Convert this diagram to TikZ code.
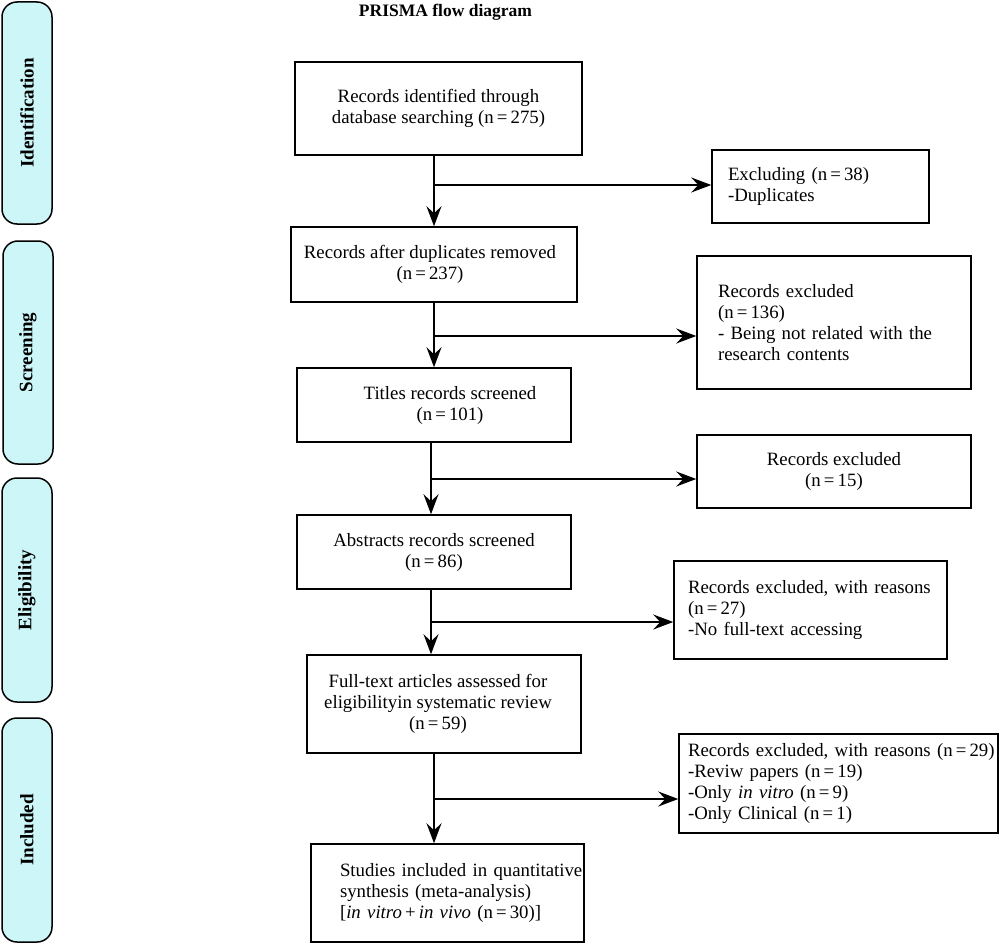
\documentclass[tikz,border=0pt]{standalone}
\usepackage{fontspec}
\setmainfont{Liberation Serif}
\usetikzlibrary{arrows.meta,calc}
\definecolor{phase}{HTML}{CDF6F8}
\newcommand{\nq}{\,=\,}
\newcommand{\lineat}[2]{\mbox{\hspace*{#1}#2}}
\tikzset{
  box/.style={draw=black, line width=1.5pt, inner sep=0pt, align=center,
    font=\fontsize{18.8}{21}\selectfont},
  lbox/.style={box, align=left},
  phasebox/.style={draw=black, line width=1.5pt, fill=phase, rounded corners=15pt,
    minimum width=50pt, inner sep=0pt},
  phaselabel/.style={rotate=90, font=\bfseries\fontsize{19}{22}\selectfont},
  arr/.style={line width=1.5pt, -{Stealth[length=20pt, width=15pt, inset=7pt]}},
}
\begin{document}
\begin{tikzpicture}[x=1pt, y=-1pt]
\useasboundingbox (0,0) rectangle (1000,944);
% phase bars
\node[phasebox, minimum height=222pt] (p1) at (27,113) {};
\node[phaselabel] (p1t) at (p1.center) {Identification};
\node[phasebox, minimum height=223pt] (p2) at (28,352.5) {};
\node[phaselabel] (p2t) at (p2.center) {Screening};
\node[phasebox, minimum height=224pt] (p3) at (27,590) {};
\node[phaselabel] (p3t) at (p3.center) {Eligibility};
\node[phasebox, minimum height=224pt] (p4) at (27,830) {};
\node[phaselabel] (p4t) at (p4.center) {Included};
% title
\node[font=\bfseries\fontsize{17.5}{20}\selectfont] (title) at (445.5,12) {PRISMA flow diagram};
% main boxes
\node[box, minimum width=287pt, minimum height=93pt] (b1) at (438.5,108.5)
  {Records identified through\\database searching (n\nq 275)};
\node[box, minimum width=286pt, minimum height=75pt] (b2) at (434,264.5)
  {\hspace*{-8pt}Records after duplicates removed\\\hspace*{-8pt}(n\nq 237)};
\node[box, minimum width=274pt, minimum height=74pt] (b3) at (434,405)
  {\hspace*{32pt}Titles records screened\\\hspace*{32pt}(n\nq 101)};
\node[box, minimum width=274pt, minimum height=74pt] (b4) at (434,552)
  {Abstracts records screened\\(n\nq 86)};
\node[box, minimum width=274pt, minimum height=98pt] (b5) at (444,704)
  {\hspace*{-12pt}Full-text articles assessed for\\\hspace*{-12pt}eligibilityin systematic review\\\hspace*{-12pt}(n\nq 59)};
\node[lbox, minimum width=273pt, minimum height=98pt, text width=273pt] (b6) at (447.5,893)
  {\lineat{29pt}{Studies included in quantitative}\\\lineat{29pt}{synthesis (meta-analysis)}\\\lineat{29pt}{[\textit{in vitro}\,+\,\textit{in vivo} (n\nq 30)]}};
% exclusion boxes
\node[lbox, minimum width=217pt, minimum height=73pt, text width=217pt] (ex1) at (820.5,186.5)
  {\lineat{16pt}{Excluding (n\nq 38)}\\\lineat{16pt}{-Duplicates}};
\node[lbox, minimum width=274pt, minimum height=133pt, text width=274pt] (ex2) at (834,322.5)
  {\lineat{21pt}{Records excluded}\\\lineat{21pt}{(n\nq 136)}\\\lineat{21pt}{- Being not related with the}\\\lineat{21pt}{research contents}};
\node[box, minimum width=274pt, minimum height=73pt] (ex3) at (834,471.5)
  {Records excluded\\(n\nq 15)};
\node[lbox, minimum width=273pt, minimum height=98pt, text width=273pt] (ex4) at (810.5,610)
  {\lineat{14pt}{Records excluded, with reasons}\\\lineat{14pt}{(n\nq 27)}\\\lineat{14pt}{-No full-text accessing}};
\node[lbox, minimum width=319pt, minimum height=99pt, text width=319pt] (ex5) at (838.5,783.5)
  {\lineat{9pt}{Records excluded, with reasons (n\nq 29)}\\\lineat{9pt}{-Reviw papers (n\nq 19)}\\\lineat{9pt}{-Only \textit{in vitro} (n\nq 9)}\\\lineat{9pt}{-Only Clinical (n\nq 1)}};
% junction points
\coordinate (j1) at (434,185);
\coordinate (j2) at (434,336);
\coordinate (j3) at (431,479);
\coordinate (j4) at (431,622);
\coordinate (j5) at (434,799);
% vertical connectors
\draw[arr] (b1.south -| j1) -- (b2.north -| j1);
\draw[arr] (b2.south -| j2) -- (b3.north -| j2);
\draw[arr] (b3.south -| j3) -- (b4.north -| j3);
\draw[arr] (b4.south -| j4) -- (b5.north -| j4);
\draw[arr] (b5.south -| j5) -- (b6.north -| j5);
% side connectors
\draw[arr] (j1) -- (j1 -| ex1.west);
\draw[arr] (j2) -- (j2 -| ex2.west);
\draw[arr] (j3) -- (j3 -| ex3.west);
\draw[arr] (j4) -- (j4 -| ex4.west);
\draw[arr] (j5) -- (j5 -| ex5.west);
\end{tikzpicture}
\end{document}
